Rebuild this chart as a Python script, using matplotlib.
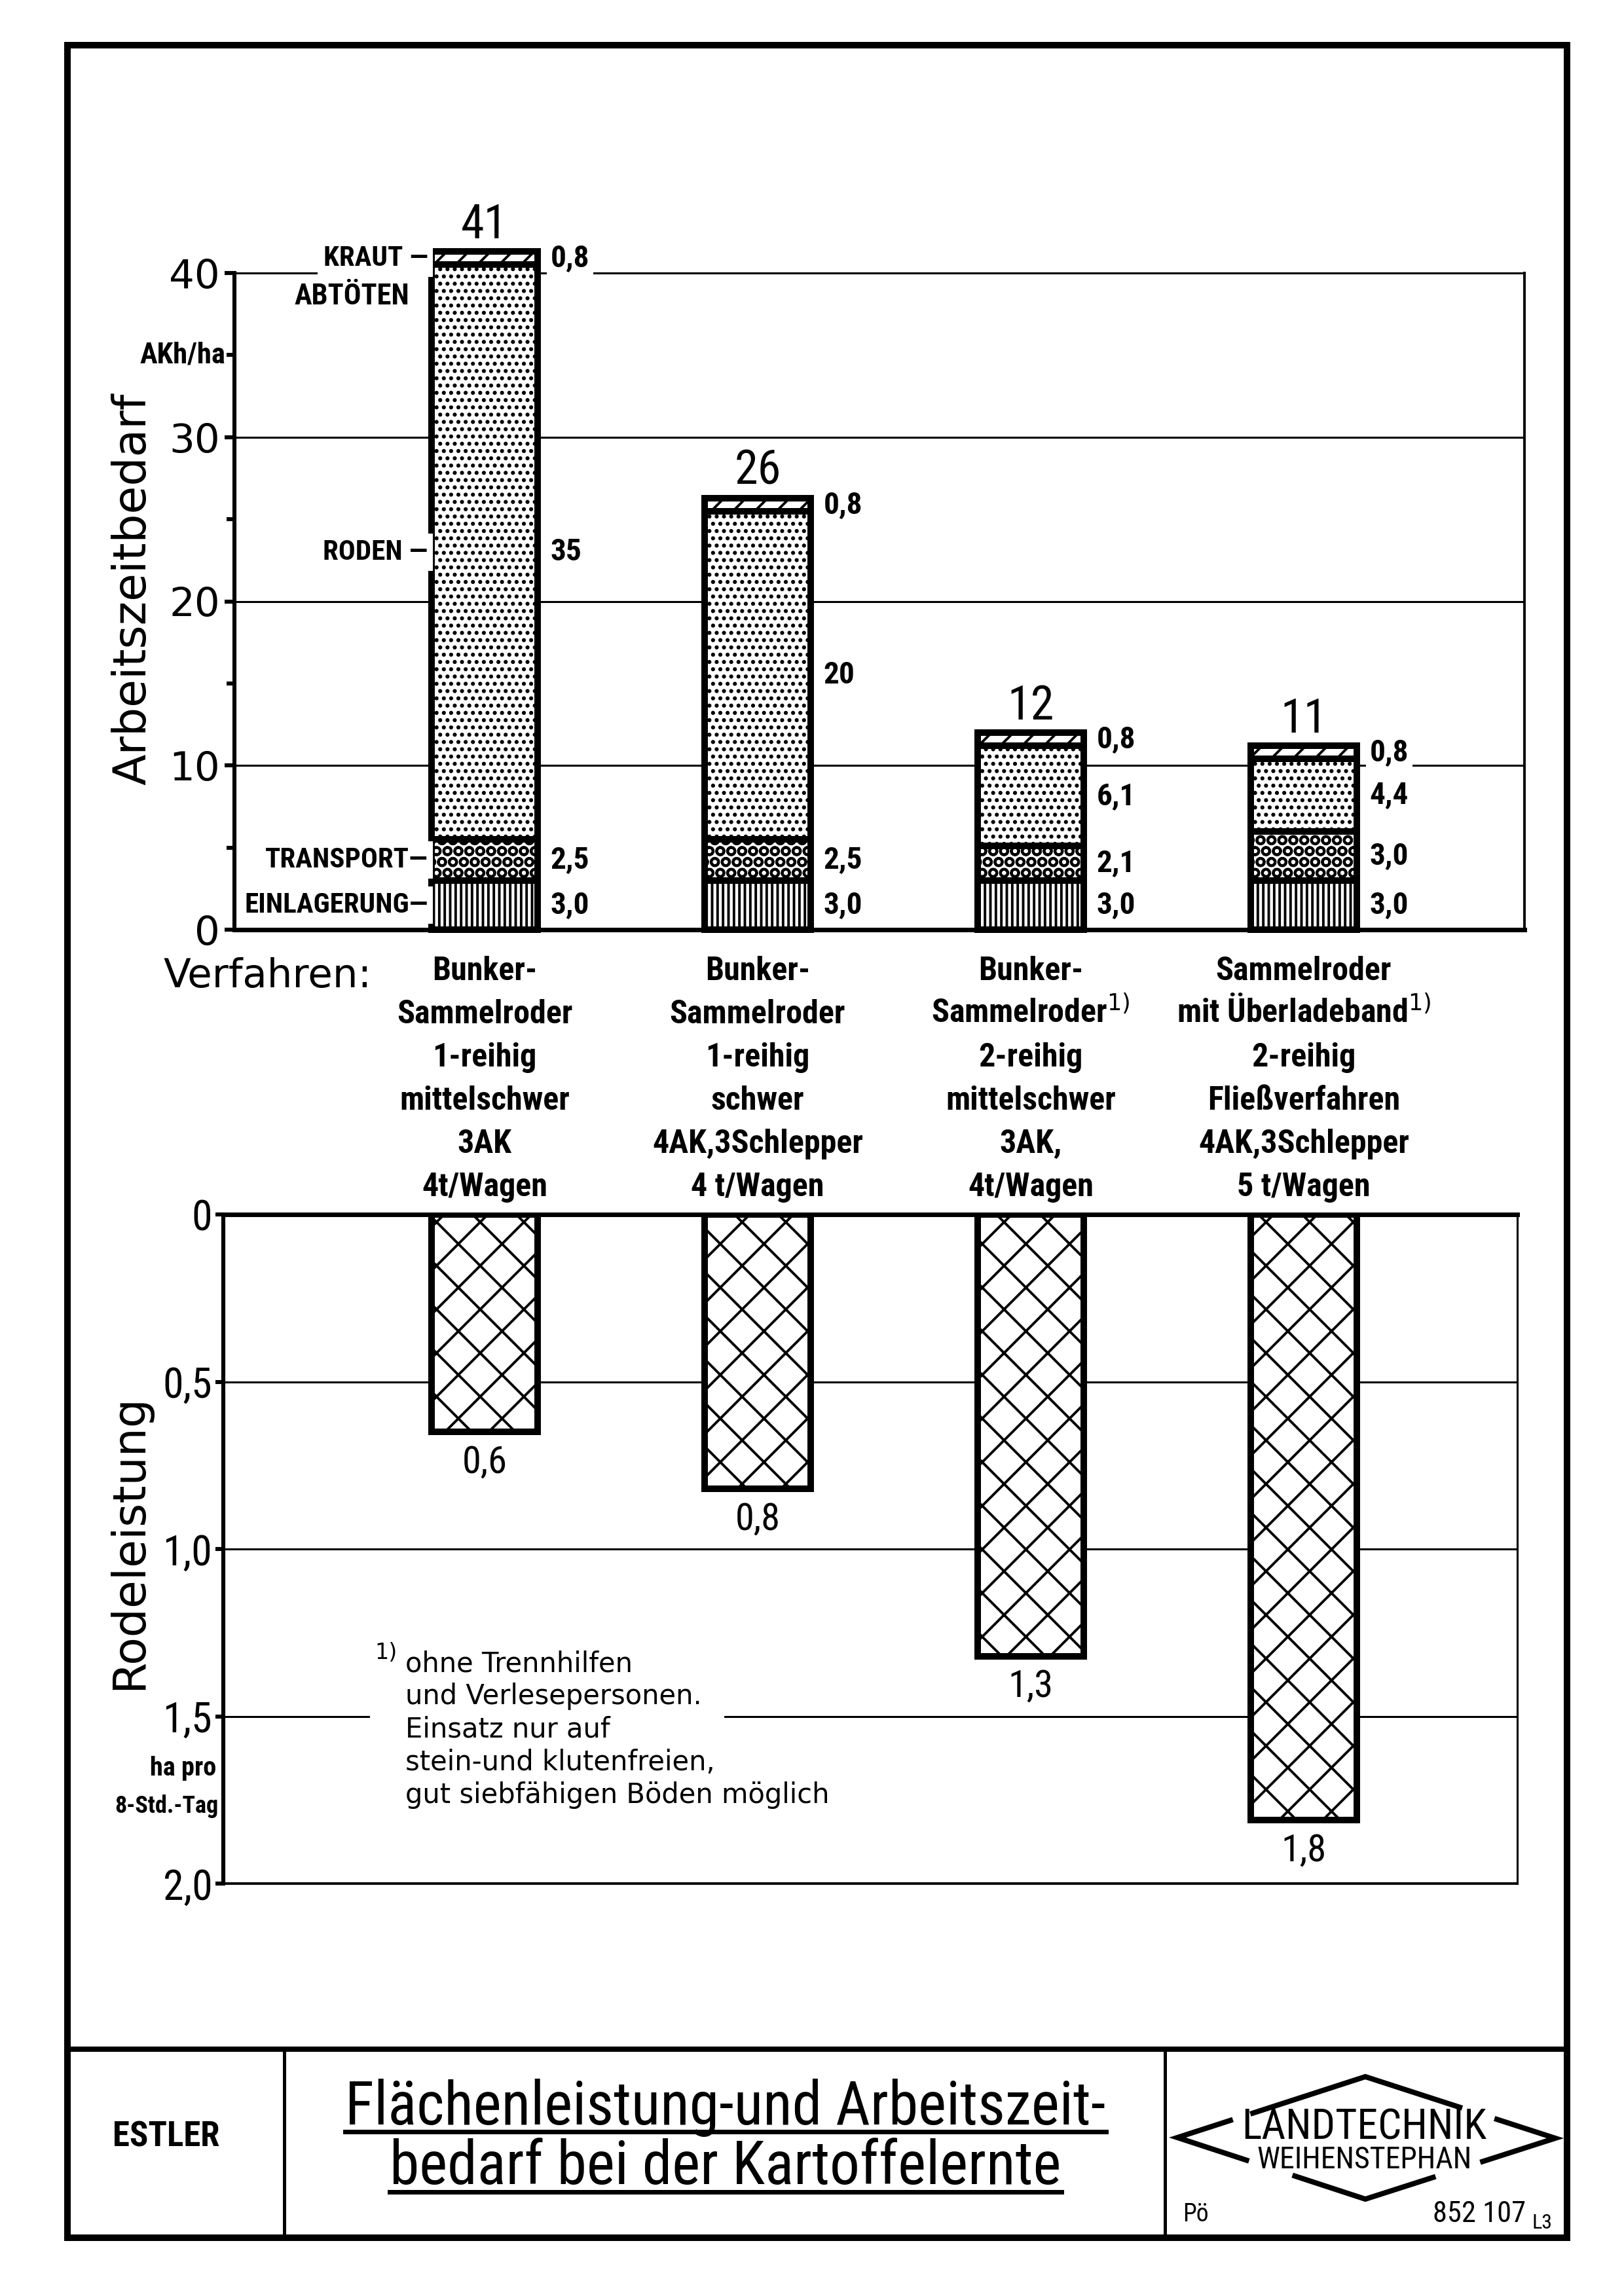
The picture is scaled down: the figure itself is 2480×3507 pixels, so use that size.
import matplotlib
matplotlib.use('Agg')
import matplotlib.pyplot as plt
import numpy as np
from matplotlib import font_manager
from matplotlib.patches import Rectangle
from matplotlib.transforms import blended_transform_factory

# fonts: a narrow face with a real bold if one is installed, else DejaVu
fl = font_manager.fontManager.ttflist


def usable(name):
    ws = {str(f.weight) for f in fl if f.name == name}
    return bool(ws & {'400', 'normal', 'regular'}) and bool(ws & {'700', 'bold'})


candidates = ['Roboto Condensed', 'Liberation Sans Narrow', 'Barlow Semi Condensed',
              'Archivo Narrow', 'PT Sans Narrow', 'Open Sans Condensed']
NARROW = next((n for n in candidates if usable(n)), 'DejaVu Sans')
ROUND = 'DejaVu Sans'
plt.rcParams['font.family'] = [NARROW, 'DejaVu Sans']
plt.rcParams['hatch.linewidth'] = 1.4
plt.rcParams['hatch.color'] = 'black'

# ---- data ----
verfahren = [
    ['Bunker-', 'Sammelroder', '1-reihig', 'mittelschwer', '3AK', '4t/Wagen'],
    ['Bunker-', 'Sammelroder', '1-reihig', 'schwer', '4AK,3Schlepper', '4 t/Wagen'],
    ['Bunker-', 'Sammelroder$^{1)}$', '2-reihig', 'mittelschwer', '3AK,', '4t/Wagen'],
    ['Sammelroder', 'mit Überladeband$^{1)}$', '2-reihig', 'Fließverfahren', '4AK,3Schlepper', '5 t/Wagen'],
]
einlagerung = [3.0, 3.0, 3.0, 3.0]
transport = [2.5, 2.5, 2.1, 3.0]
roden = [35.0, 20.0, 6.1, 4.4]
kraut = [0.8, 0.8, 0.8, 0.8]
gesamt = ['41', '26', '12', '11']
segment_namen = ['EINLAGERUNG—', 'TRANSPORT—', 'RODEN —', 'KRAUT —']
segment_hatch = ['||||', 'OO', '...', '//']

rodeleistung = [0.65, 0.82, 1.32, 1.81]
rodeleistung_txt = ['0,6', '0,8', '1,3', '1,8']

top_ticks = [0, 10, 20, 30, 40]
bot_ticks = [0, 0.5, 1.0, 1.5, 2.0]
bot_ticklabels = ['0', '0,5', '1,0', '1,5', '2,0']

W, H = 2480, 3507
fig = plt.figure(figsize=(W / 200, H / 200), dpi=200)

# background axes in pixel coordinates for frame and title block
bg = fig.add_axes([0, 0, 1, 1])
bg.set_xlim(0, W)
bg.set_ylim(H, 0)
bg.axis('off')

bg.add_patch(Rectangle((103, 69), 2393 - 103, 3418 - 69, fill=False, lw=3.6, ec='black'))
bg.plot([103, 2393], [3130, 3130], color='black', lw=2.9)
bg.plot([434, 434], [3130, 3418], color='black', lw=1.8)
bg.plot([1779, 1779], [3130, 3418], color='black', lw=1.8)


def fmt(v):
    return f'{v:.0f}' if v >= 10 else f'{v:.1f}'.replace('.', ',')


x = np.arange(len(gesamt))
bw = 0.39

# ---- top chart: Arbeitszeitbedarf ----
ax = fig.add_axes([358 / W, 1 - 1420 / H, (2328 - 358) / W, (1420 - 417) / H])
ax.set_facecolor('none')
ax.set_xlim((358 - 740) / 417, (2328 - 740) / 417)
ax.set_ylim(0, 40)

bottom = np.zeros(len(x))
for vals, hatch, name in zip([einlagerung, transport, roden, kraut], segment_hatch, segment_namen):
    vals = np.array(vals)
    ax.bar(x, vals, bw, bottom=bottom, color='white', edgecolor='black', lw=3.6,
           hatch=hatch, zorder=3, clip_on=False)
    for xi, v, b in zip(x, vals, bottom):
        ax.annotate(fmt(v), (xi + bw / 2, b + v / 2), xytext=(7, 0), textcoords='offset points',
                    ha='left', va='center', fontsize=17, fontweight='bold',
                    bbox=dict(fc='white', ec='none', pad=2), zorder=5, annotation_clip=False)
    # names next to first bar
    ax.annotate(name, (x[0] - bw / 2, bottom[0] + vals[0] / 2), xytext=(-2, 0),
                textcoords='offset points', ha='right', va='center', fontsize=15.5,
                fontweight='bold', bbox=dict(fc='white', ec='none', pad=3), zorder=5,
                annotation_clip=False)
    if name.startswith('KRAUT'):
        ax.annotate('ABTÖTEN', (x[0] - bw / 2, bottom[0] + vals[0] / 2), xytext=(-12, -21),
                    textcoords='offset points', ha='right', va='center', fontsize=16,
                    fontweight='bold', bbox=dict(fc='white', ec='none', pad=3), zorder=5,
                    annotation_clip=False)
    bottom = bottom + vals

for xi, top, g in zip(x, bottom, gesamt):
    ax.annotate(g, (xi, top), xytext=(0, 2), textcoords='offset points', ha='center',
                va='bottom', fontsize=26, annotation_clip=False)

ax.set_xticks([])
ax.set_yticks(top_ticks)
ax.set_yticklabels([str(t) for t in top_ticks], fontfamily=ROUND, fontsize=22)
ax.set_yticks([5, 15, 25, 35], minor=True)
ax.tick_params(axis='y', which='major', length=5.5, width=2.2, pad=2.5)
ax.tick_params(axis='y', which='minor', length=4.3, width=2.2)
ax.yaxis.grid(True, color='black', lw=1.1)
ax.set_axisbelow(True)
ax.spines['left'].set_linewidth(2.2)
ax.spines['bottom'].set_linewidth(2.5)
ax.spines['right'].set_linewidth(1.4)
ax.spines['top'].set_linewidth(1.1)
ax.annotate('AKh/ha', (0, 35), xycoords=ax.get_yaxis_transform(), xytext=(-5, 0),
            textcoords='offset points', ha='right', va='center', fontsize=16, fontweight='bold')

bg.text(203, 900, 'Arbeitszeitbedarf', rotation=90, ha='center', va='center',
        fontsize=25, family=ROUND)
bg.text(250, 1508, 'Verfahren:', ha='left', va='baseline', fontsize=22, family=ROUND)

# category texts under the top chart
cat_tr = blended_transform_factory(ax.transData, bg.transData)
for xi, lines in zip(x, verfahren):
    for k, line in enumerate(lines):
        bg.text(xi, 1497 + 66 * k, line, transform=cat_tr, ha='center', va='baseline',
                fontsize=18, fontweight='bold')

# ---- bottom chart: Rodeleistung ----
ax2 = fig.add_axes([341 / W, 1 - 2877 / H, (2317 - 341) / W, (2877 - 1855) / H])
ax2.set_facecolor('none')
ax2.set_xlim((341 - 740) / 417, (2317 - 740) / 417)
ax2.set_ylim(2.0, 0)
ax2.bar(x, rodeleistung, bw, color='white', edgecolor='black', lw=3.6, hatch='x', zorder=3)
for xi, v, t in zip(x, rodeleistung, rodeleistung_txt):
    ax2.annotate(t, (xi, v), xytext=(0, -7), textcoords='offset points', ha='center',
                 va='top', fontsize=21)

ax2.set_xticks([])
ax2.set_yticks(bot_ticks)
ax2.set_yticklabels(bot_ticklabels, fontsize=23)
ax2.tick_params(axis='y', which='major', length=4.5, width=2.2, pad=1.5)
ax2.yaxis.grid(True, color='black', lw=1.1)
ax2.set_axisbelow(True)
ax2.spines['left'].set_linewidth(2.2)
ax2.spines['top'].set_linewidth(2.5)
ax2.spines['bottom'].set_linewidth(1.4)
ax2.spines['right'].set_linewidth(1.1)
# gap in the 1,5 line behind the footnote
ax2.axhline(1.5, xmin=(570 - 341) / 1976, xmax=(1100 - 341) / 1976, color='white', lw=4, zorder=2)

bg.text(197, 2355, 'Rodeleistung', rotation=90, ha='center', va='center', fontsize=25, family=ROUND)
bg.text(280, 2701, 'ha pro', ha='center', va='center', fontsize=14.5, fontweight='bold')
bg.text(254, 2759, '8-Std.-Tag', ha='center', va='center', fontsize=13, fontweight='bold')

ax2.text(572, 2508, '1)', transform=bg.transData, ha='left', va='top', fontsize=12, family=ROUND)
ax2.text(619, 2520, 'ohne Trennhilfen\nund Verlesepersonen.\nEinsatz nur auf\n'
         'stein-und klutenfreien,\ngut siebfähigen Böden möglich',
         transform=bg.transData, ha='left', va='top', fontsize=15, family=ROUND,
         linespacing=1.25)

# ---- title block ----
bg.text(254, 3264, 'ESTLER', ha='center', va='center', fontsize=19, fontweight='bold')
t1 = bg.text(1108, 3245, 'Flächenleistung-und Arbeitszeit-', ha='center', va='baseline', fontsize=33)
t2 = bg.text(1108, 3336, 'bedarf bei der Kartoffelernte', ha='center', va='baseline', fontsize=33)

bg.text(2083, 3268, 'LANDTECHNIK', ha='center', va='baseline', fontsize=23)
bg.text(2084, 3312, 'WEIHENSTEPHAN', ha='center', va='baseline', fontsize=16.5)
bg.text(1806, 3393, 'Pö', ha='left', va='baseline', fontsize=13.5)
bg.text(2330, 3394, '852 107', ha='right', va='baseline', fontsize=16)
bg.text(2340, 3404, 'L3', ha='left', va='baseline', fontsize=11.5)

# diamond of the logo, with gaps for the lettering
P = {'L': np.array([1798, 3265]), 'T': np.array([2085, 3172]),
     'R': np.array([2375, 3266]), 'B': np.array([2085, 3359])}


def pt(a, b, t):
    return P[a] + (P[b] - P[a]) * t


runs = [
    [pt('L', 'T', 0.295), P['L'], pt('L', 'B', 0.381)],
    [pt('L', 'T', 0.388), P['T'], pt('T', 'R', 0.51)],
    [pt('T', 'R', 0.68), P['R'], pt('B', 'R', 0.605)],
    [pt('L', 'B', 0.612), P['B'], pt('B', 'R', 0.37)],
]
for run in runs:
    run = np.array(run)
    bg.plot(run[:, 0], run[:, 1], color='black', lw=2.9, solid_joinstyle='miter',
            solid_capstyle='butt')

# underline the title
fig.canvas.draw()
r = fig.canvas.get_renderer()
inv = bg.transData.inverted()
for t, y in [(t1, 3256), (t2, 3348)]:
    bb = t.get_window_extent(r)
    xs = inv.transform([[bb.x0, 0], [bb.x1, 0]])[:, 0]
    bg.plot(xs, [y, y], color='black', lw=2.5)

fig.savefig('out.png', dpi=200, facecolor='white')
